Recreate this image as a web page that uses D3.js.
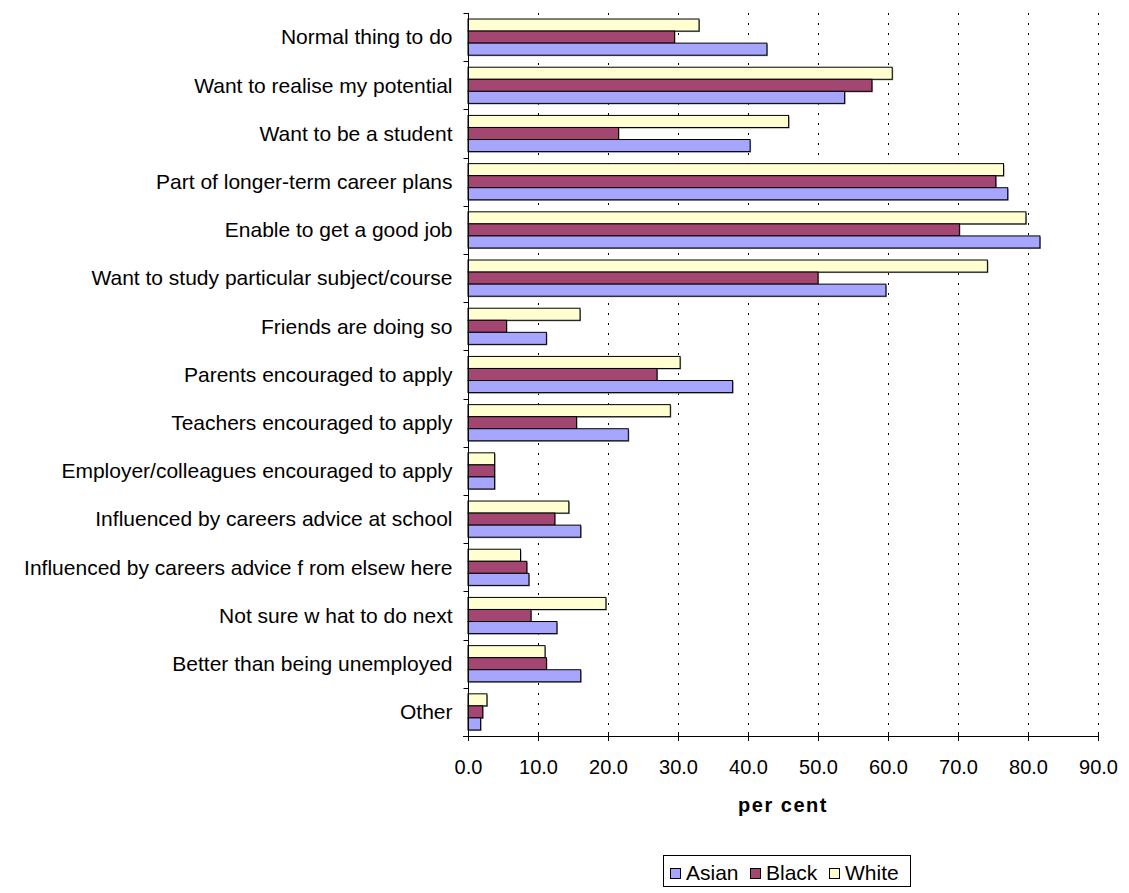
<!DOCTYPE html>
<html><head><meta charset="utf-8">
<script src="https://cdn.jsdelivr.net/npm/d3@7"></script>
<style>
body{margin:0;background:#fff;}
svg{display:block;font-family:"Liberation Sans",Arial,sans-serif;}
</style></head>
<body>
<svg id="chart" width="1129" height="893"></svg>
<script>
const categories = [
  "Normal thing to do",
  "Want to realise my potential",
  "Want to be a student",
  "Part of longer-term career plans",
  "Enable to get a good job",
  "Want to study particular subject/course",
  "Friends are doing so",
  "Parents encouraged to apply",
  "Teachers encouraged to apply",
  "Employer/colleagues encouraged to apply",
  "Influenced by careers advice at school",
  "Influenced by careers advice f rom elsew here",
  "Not sure w hat to do next",
  "Better than being unemployed",
  "Other"
];
const seriesNames = ["Asian", "Black", "White"];
const asian = [42.7, 53.8, 40.3, 77.1, 81.7, 59.7, 11.2, 37.8, 22.9, 3.8, 16.1, 8.7, 12.7, 16.1, 1.8];
const black = [29.5, 57.7, 21.5, 75.4, 70.2, 50.0, 5.5, 27.0, 15.5, 3.8, 12.4, 8.4, 9.0, 11.2, 2.1];
const white = [33.0, 60.6, 45.8, 76.5, 79.7, 74.2, 16.0, 30.3, 28.9, 3.8, 14.4, 7.5, 19.7, 11.0, 2.7];
const xTicks = [0, 10, 20, 30, 40, 50, 60, 70, 80, 90];
const colors = {Asian: "#a6a6ff", Black: "#a34672", White: "#ffffd2"};
const values = {Asian: asian, Black: black, White: white};

const svg = d3.select("#chart");
const pLeft = 468, pRight = 1098, pTop = 13, pBottom = 736;

const x = d3.scaleLinear().domain([0, 90]).range([pLeft, pRight]);
const y = d3.scaleBand().domain(categories).range([pTop, pBottom]).paddingInner(0).paddingOuter(0);
const drawOrder = ["White", "Black", "Asian"];
const inner = d3.scaleBand().domain(drawOrder).range([0, y.bandwidth()]).paddingOuter(0.5).paddingInner(0);

// gridlines
svg.append("g").selectAll("line").data(xTicks.filter(d => d > 0)).join("line")
  .attr("x1", d => Math.round(x(d)) + 0.5).attr("x2", d => Math.round(x(d)) + 0.5)
  .attr("y1", pTop).attr("y2", pBottom)
  .attr("stroke", "#000").attr("stroke-width", 1)
  .attr("stroke-dasharray", "2,8");

// bars
const gBars = svg.append("g");
categories.forEach((c, i) => {
  drawOrder.forEach(s => {
    const v = values[s][i];
    gBars.append("rect")
      .attr("x", x(0) + 1).attr("y", y(c) + inner(s) + 1)
      .attr("width", x(v) - x(0)).attr("height", inner.bandwidth())
      .attr("fill", "#888");
    gBars.append("rect")
      .attr("x", x(0)).attr("y", y(c) + inner(s))
      .attr("width", x(v) - x(0)).attr("height", inner.bandwidth())
      .attr("fill", colors[s]).attr("stroke", "#000").attr("stroke-width", 1);
  });
});

// y axis
const yAxisG = svg.append("g").attr("transform", `translate(${pLeft + 0.5},0)`);
yAxisG.append("line").attr("x1", 0).attr("x2", 0).attr("y1", pTop).attr("y2", pBottom)
  .attr("stroke", "#000");
const yBounds = categories.map(c => y(c)).concat([pBottom]);
yAxisG.selectAll("line.tk").data(yBounds).join("line").attr("class", "tk")
  .attr("x1", -5).attr("x2", 0).attr("y1", d => Math.round(d) + 0.5).attr("y2", d => Math.round(d) + 0.5)
  .attr("stroke", "#000");
yAxisG.selectAll("text").data(categories).join("text")
  .attr("x", -16).attr("y", d => y(d) + y.bandwidth() / 2)
  .attr("dy", "0.35em").attr("text-anchor", "end")
  .attr("font-size", 21).attr("fill", "#000").text(d => d);

// x axis
const xAxis = d3.axisBottom(x).tickValues(xTicks).tickFormat(d3.format(".1f")).tickSizeInner(5).tickSizeOuter(0).tickPadding(19);
const xg = svg.append("g").attr("transform", `translate(0,${pBottom})`).call(xAxis);
xg.select(".domain").attr("stroke", "#000").attr("d", `M${pLeft - 5},0.5H${pRight}`);
xg.selectAll(".tick line").attr("y1", -4).attr("y2", 5).attr("stroke", "#000");
xg.selectAll(".tick text").attr("font-size", 20).attr("fill", "#000")
  .attr("font-family", "Liberation Sans, Arial, sans-serif");

svg.append("text").attr("x", (pLeft + pRight) / 2).attr("y", 812)
  .attr("text-anchor", "middle").attr("font-size", 20).attr("font-weight", "bold")
  .attr("letter-spacing", "1.5px").text("per cent");

// legend
const lg = svg.append("g");
lg.append("rect").attr("x", 663.5).attr("y", 855.5).attr("width", 247).attr("height", 31)
  .attr("fill", "#fff").attr("stroke", "#000");
const legendX = [670, 750, 829];
seriesNames.forEach((s, i) => {
  lg.append("rect").attr("x", legendX[i] + 0.5).attr("y", 868.5).attr("width", 10).attr("height", 10)
    .attr("fill", colors[s]).attr("stroke", "#000");
  lg.append("text").attr("x", legendX[i] + 16).attr("y", 880)
    .attr("font-size", 21).text(s);
});
</script>
</body></html>
